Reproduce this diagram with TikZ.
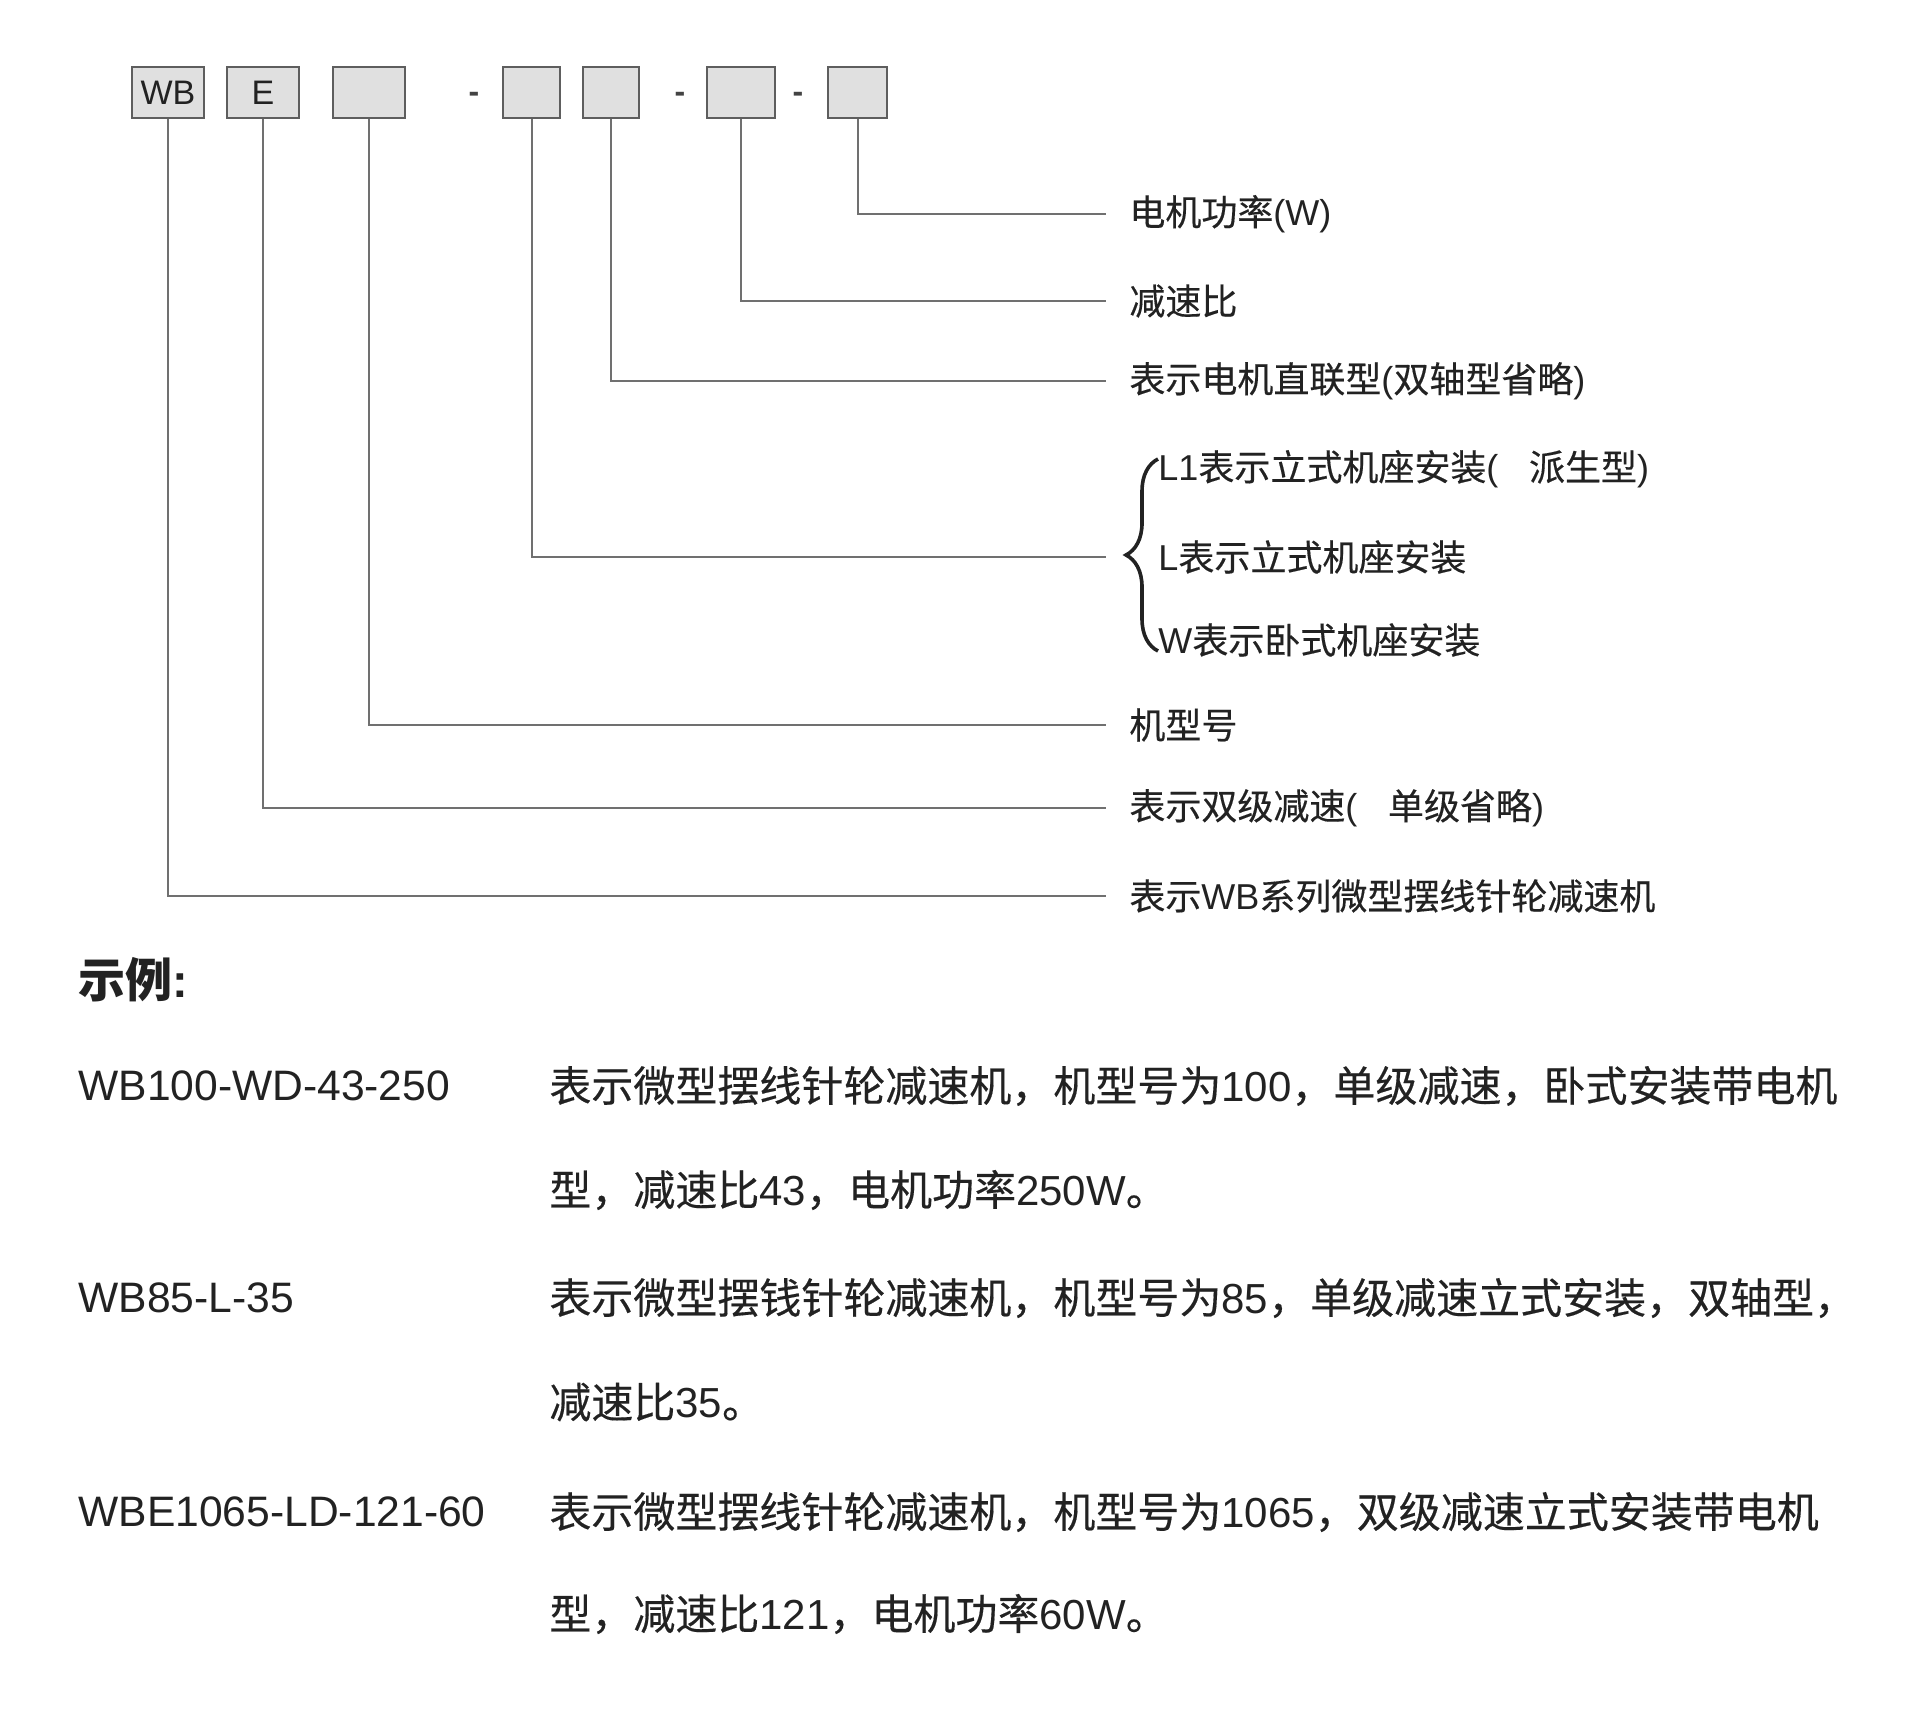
\documentclass[tikz,border=0pt]{standalone}
\usepackage{fontspec}
\setmainfont{Liberation Sans}
\newfontfamily\cjk[FakeBold=0.35]{Noto Sans CJK SC}
\newfontfamily\cjkh{Noto Sans CJK SC}
\newfontfamily\lat{Liberation Sans}
\usetikzlibrary{decorations.pathreplacing}
\definecolor{txt}{HTML}{222222}
\definecolor{ln}{HTML}{707070}
\definecolor{bxfill}{HTML}{E0E0E0}
\definecolor{bxdraw}{HTML}{5E5E5E}
\begin{document}
\begin{tikzpicture}[x=0.5pt,y=-0.5pt,
  codebox/.style={draw=bxdraw, fill=bxfill, line width=1.2pt, minimum height=25.5pt, inner sep=0pt,
    font=\lat\fontsize{17}{17}\selectfont, text=txt},
  sepdash/.style={inner sep=0pt, font=\lat\bfseries\fontsize{16}{16}\selectfont, text=txt!85},
  lbl/.style={anchor=west, inner xsep=11.5pt, inner ysep=0pt, font=\cjk\fontsize{18}{18}\selectfont, text=txt},
  sublbl/.style={anchor=west, inner sep=0pt, font=\cjk\fontsize{18}{18}\selectfont, text=txt},
  conn/.style={draw=ln, line width=1pt},
  bracestyle/.style={draw=txt, line width=1.8pt, decorate, decoration={brace, amplitude=16pt, aspect=0.5}},
  head/.style={anchor=west, inner sep=0pt, font=\cjkh\bfseries\fontsize{23.5}{23.5}\selectfont, text=txt},
  code/.style={anchor=west, inner sep=0pt, font=\lat\fontsize{21.3}{21.3}\selectfont, text=txt},
  desc/.style={anchor=west, inner sep=0pt, font=\cjk\fontsize{21}{21}\selectfont, text=txt}]
\useasboundingbox (0,0) rectangle (1920,1719);

% code boxes
\node[codebox, minimum width=36pt] (b1) at (168,92.5) {WB};
\node[codebox, minimum width=36pt] (b2) at (263,92.5) {E};
\node[codebox, minimum width=36pt] (b3) at (369,92.5) {};
\node[sepdash] (d1) at (474,97) {-};
\node[codebox, minimum width=28.5pt] (b4) at (531.5,92.5) {};
\node[codebox, minimum width=28pt] (b5) at (611,92.5) {};
\node[sepdash] (d2) at (680,97) {-};
\node[codebox, minimum width=34pt] (b6) at (741,92.5) {};
\node[sepdash] (d3) at (798,97) {-};
\node[codebox, minimum width=29.5pt] (b7) at (857.5,92.5) {};

% labels
\node[lbl] (l7) at (1106,214) {电机功率{\lat (W)}};
\node[lbl] (l6) at (1106,301) {减速比};
\node[lbl] (l5) at (1106,381) {表示电机直联型{\lat(}双轴型省略{\lat)}};
\coordinate (l4) at (1106,557);
\node[sublbl] (m1) at (1158,469) {{\lat L1}表示立式机座安装{\lat(}\hspace{0.85em}派生型{\lat)}};
\node[sublbl] (m2) at (1158,557) {{\lat L}表示立式机座安装};
\node[sublbl] (m3) at (1158,640) {{\lat W}表示卧式机座安装};
\node[lbl] (l3) at (1106,725) {机型号};
\node[lbl] (l2) at (1106,808) {表示双级减速{\lat(}\hspace{0.85em}单级省略{\lat)}};
\node[lbl] (l1) at (1106,896) {表示{\lat WB}系列微型摆线针轮减速机};

% connectors
\draw[conn] (b7.south) |- (l7.west);
\draw[conn] (b6.south) |- (l6.west);
\draw[conn] (b5.south) |- (l5.west);
\draw[conn] (b4.south) |- (l4);
\draw[conn] (b3.south) |- (l3.west);
\draw[conn] (b2.south) |- (l2.west);
\draw[conn] (b1.south) |- (l1.west);

% brace
\coordinate (brb) at (1158,651);
\coordinate (brt) at (1158,459);
\draw[bracestyle] (brb) -- (brt);

% examples
\node[head] (h) at (78,980) {示例{\lat\bfseries :}};
\node[code] (c1) at (78,1086) {WB100-WD-43-250};
\node[desc] (t1a) at (549,1086) {表示微型摆线针轮减速机，机型号为{\lat 100}，单级减速，卧式安装带电机};
\node[desc] (t1b) at (549,1190) {型，减速比{\lat 43}，电机功率{\lat 250W}。};
\node[code] (c2) at (78,1298) {WB85-L-35};
\node[desc] (t2a) at (549,1298) {表示微型摆钱针轮减速机，机型号为{\lat 85}，单级减速立式安装，双轴型，};
\node[desc] (t2b) at (549,1402) {减速比{\lat 35}。};
\node[code] (c3) at (78,1512) {WBE1065-LD-121-60};
\node[desc] (t3a) at (549,1512) {表示微型摆线针轮减速机，机型号为{\lat 1065}，双级减速立式安装带电机};
\node[desc] (t3b) at (549,1614) {型，减速比{\lat 121}，电机功率{\lat 60W}。};
\end{tikzpicture}
\end{document}
